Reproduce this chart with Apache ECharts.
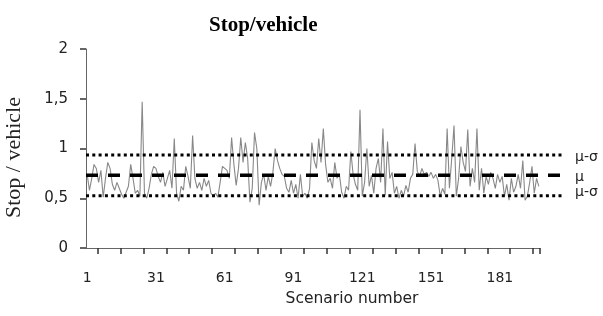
<!DOCTYPE html>
<html>
<head>
<meta charset="utf-8">
<script src="https://cdn.jsdelivr.net/npm/echarts@6/dist/echarts.min.js"></script>
<style>
  html, body { margin: 0; padding: 0; background: #fff; }
  #main { width: 603px; height: 316px; }
</style>
</head>
<body>
<div id="main"></div>
<script>
// stops per vehicle for each scenario
var stops = [
  0.74, 0.58, 0.70, 0.84, 0.80, 0.66, 0.78, 0.51, 0.70, 0.86,
  0.80, 0.64, 0.58, 0.66, 0.60, 0.54, 0.50, 0.56, 0.62, 0.84,
  0.70, 0.55, 0.58, 0.52, 1.47, 0.55, 0.50, 0.60, 0.74, 0.82,
  0.80, 0.72, 0.66, 0.76, 0.62, 0.70, 0.78, 0.60, 1.10, 0.55,
  0.47, 0.62, 0.58, 0.82, 0.72, 0.60, 1.13, 0.70, 0.60, 0.66,
  0.58, 0.70, 0.62, 0.68, 0.55, 0.52, 0.55, 0.51, 0.66, 0.82,
  0.80, 0.78, 0.70, 1.11, 0.84, 0.63, 0.80, 1.11, 0.86, 1.06,
  0.90, 0.46, 0.60, 1.16, 1.00, 0.43, 0.66, 0.74, 0.58, 0.72,
  0.62, 0.76, 1.00, 0.88, 0.80, 0.74, 0.72, 0.60, 0.56, 0.68,
  0.55, 0.64, 0.50, 0.74, 0.52, 0.55, 0.50, 0.60, 1.06, 0.88,
  0.80, 1.10, 0.86, 1.20, 0.84, 0.66, 0.70, 0.60, 0.86, 0.70,
  0.74, 0.56, 0.50, 0.62, 0.58, 0.97, 0.74, 0.64, 0.58, 1.39,
  0.52, 0.66, 1.00, 0.62, 0.73, 0.55, 0.80, 0.90, 0.66, 1.20,
  0.53, 1.07, 0.70, 0.76, 0.55, 0.62, 0.50, 0.58, 0.52, 0.63,
  0.56, 0.70, 0.74, 1.05, 0.77, 0.72, 0.80, 0.74, 0.76, 0.72,
  0.76, 0.70, 0.74, 0.68, 0.52, 0.60, 0.54, 1.20, 0.60, 0.90,
  1.23, 0.52, 0.70, 1.02, 0.86, 0.77, 1.19, 0.62, 0.80, 0.66,
  1.20, 0.58, 0.80, 0.55, 0.72, 0.64, 0.76, 0.70, 0.60, 0.74,
  0.66, 0.72, 0.52, 0.64, 0.48, 0.70, 0.56, 0.62, 0.74, 0.60,
  0.88, 0.48, 0.52, 0.66, 0.82, 0.55, 0.70, 0.62
];

var scenarios = [];
for (var i = 0; i < stops.length; i++) scenarios.push(String(i + 1));

// mean and standard deviation lines
var mu = 0.73;
var sigma = 0.205;
var refNames = ['μ-σ', 'μ', 'μ-σ'];
var refValues = [mu + sigma, mu, mu - sigma];

var sans = 'DejaVu Sans';
var serif = 'Liberation Serif';

var chart = echarts.init(document.getElementById('main'), null, { renderer: 'canvas' });

chart.setOption({
  animation: false,
  backgroundColor: '#fff',
  title: {
    text: 'Stop/vehicle',
    left: 204,
    top: 10,
    textStyle: { fontFamily: serif, fontWeight: 'bold', fontSize: 21, color: '#000' }
  },
  grid: [
    { left: 86, right: 63, top: 49, bottom: 68, outerBoundsMode: 'none', containLabel: false },
    { left: 86, right: 40, top: 49, bottom: 68, outerBoundsMode: 'none', containLabel: false }
  ],
  xAxis: [{
    type: 'category',
    gridIndex: 0,
    data: scenarios,
    boundaryGap: true,
    name: 'Scenario number',
    nameLocation: 'middle',
    nameGap: 43,
    nameTextStyle: { fontFamily: sans, fontSize: 15.5, color: '#222', padding: [0, 0, 0, 78] },
    axisLine: { show: true, lineStyle: { color: '#666', width: 1 } },
    axisTick: {
      show: true,
      length: 6,
      interval: function (index) { return index % 10 === 5; },
      lineStyle: { color: '#333', width: 1.5 }
    },
    axisLabel: { interval: 29, margin: 23, fontFamily: sans, fontSize: 14, color: '#222' },
    splitLine: { show: false }
  }, {
    type: 'category',
    gridIndex: 1,
    data: ['a', 'b'],
    boundaryGap: false,
    show: false
  }],
  yAxis: [{
    type: 'value',
    gridIndex: 0,
    min: 0,
    max: 2,
    interval: 0.5,
    name: 'Stop / vehicle',
    nameLocation: 'middle',
    nameGap: 61,
    nameTextStyle: { fontFamily: serif, fontSize: 22, color: '#222', padding: [0, 18, 0, 0] },
    axisLine: { show: true, lineStyle: { color: '#666', width: 1 } },
    axisTick: { show: true, length: 6, lineStyle: { color: '#333', width: 1.5 } },
    axisLabel: {
      margin: 18, fontFamily: sans, fontSize: 15, color: '#222',
      formatter: function (v) { return String(v).replace('.', ','); }
    },
    splitLine: { show: false }
  }, {
    type: 'value',
    gridIndex: 1,
    min: 0,
    max: 2,
    show: false
  }],
  series: [{
    type: 'line',
    xAxisIndex: 0,
    yAxisIndex: 0,
    data: stops,
    symbol: 'none',
    lineStyle: { color: '#888', width: 1.1 },
    z: 2
  }].concat(refValues.map(function (v, k) {
    return {
      type: 'line',
      name: refNames[k],
      xAxisIndex: 1,
      yAxisIndex: 1,
      data: [v, v],
      symbol: 'none',
      silent: true,
      lineStyle: k === 1
        ? { color: '#000', width: 3.5, type: [12, 10], cap: 'butt' }
        : { color: '#000', width: 3, type: [3, 3.3], cap: 'butt' },
      endLabel: {
        show: true,
        formatter: refNames[k],
        distance: 12,
        offset: k === 2 ? [0, -3] : [0, 2],
        fontFamily: sans,
        fontSize: 14,
        color: '#222'
      },
      z: 3
    };
  }))
});
</script>
</body>
</html>
